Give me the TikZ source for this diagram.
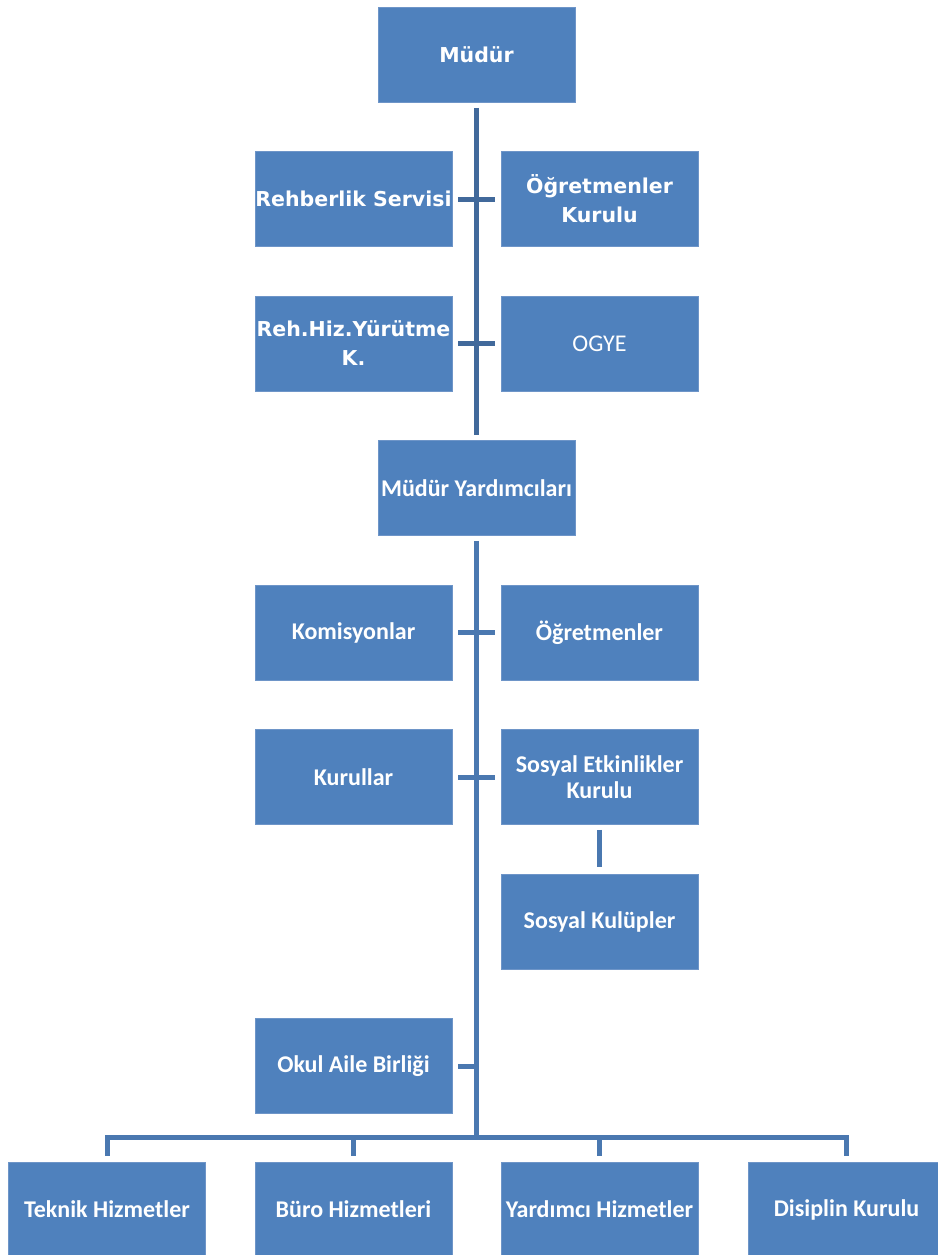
\documentclass[tikz,border=0pt]{standalone}
\usepackage{fontspec}
\setmainfont{Carlito}
\newfontfamily\comicfont{DejaVu Sans}
\definecolor{boxfill}{HTML}{4F81BD}
\definecolor{boxline}{HTML}{6E95C8}
\definecolor{conntop}{HTML}{41699B}
\definecolor{connlow}{HTML}{4A78B0}
\tikzset{
  orgbox/.style={rectangle, fill=boxfill, draw=boxline, line width=0.8pt,
    minimum width=197pt, minimum height=95pt, inner sep=0pt, text=white,
    align=center, font=\bfseries\fontsize{24}{25.5}\selectfont},
  comicbox/.style={orgbox, font=\comicfont\bfseries\fontsize{20.5}{29}\selectfont},
  plainbox/.style={orgbox, font=\fontsize{24}{25.5}\selectfont},
  conn/.style={draw=connlow, line width=5pt, line cap=butt, line join=miter},
  conndark/.style={conn, draw=conntop},
}
\begin{document}
\begin{tikzpicture}[x=1pt,y=-1pt]
\useasboundingbox[fill=white] (0,0) rectangle (937,1255);
\node[comicbox] (mudur) at (476.5,54.5) {Müdür};
\node[comicbox] (rehber) at (353.5,199) {Rehberlik Servisi};
\node[comicbox] (ogrk) at (599.5,199) {Öğretmenler\\Kurulu};
\node[comicbox] (rehhiz) at (353.5,343.5) {Reh.Hiz.Yürütme\\K.};
\node[plainbox] (ogye) at (599.5,343.5) {OGYE};
\node[orgbox] (my) at (476.5,488) {Müdür Yardımcıları};
\node[orgbox] (kom) at (353.5,632.5) {Komisyonlar};
\node[orgbox] (ogr) at (599.5,632.5) {Öğretmenler};
\node[orgbox] (kur) at (353.5,777) {Kurullar};
\node[orgbox] (sek) at (599.5,777) {Sosyal Etkinlikler\\Kurulu};
\node[orgbox] (sk) at (599.5,921.5) {Sosyal Kulüpler};
\node[orgbox] (oab) at (353.5,1066) {Okul Aile Birliği};
\node[orgbox] (teknik) at (107,1209.5) {Teknik Hizmetler};
\node[orgbox] (buro) at (353.5,1209.5) {Büro Hizmetleri};
\node[orgbox] (yard) at (599.5,1209.5) {Yardımcı Hizmetler};
\node[orgbox] (disiplin) at (846.5,1209.5) {Disiplin Kurulu};
\coordinate (bus) at (476.5,1137);
% top spine
\draw[conndark, shorten <=5.5pt, shorten >=5pt] (mudur.south) -- (my.north);
\draw[conndark, shorten <=6pt, shorten >=6pt] (rehber.east) -- (ogrk.west);
\draw[conndark, shorten <=6pt, shorten >=6pt] (rehhiz.east) -- (ogye.west);
% lower spine
\draw[conn, shorten <=5pt] (my.south) -- ([yshift=2.5pt]bus);
\draw[conn, shorten <=6pt, shorten >=6pt] (kom.east) -- (ogr.west);
\draw[conn, shorten <=6pt, shorten >=6pt] (kur.east) -- (sek.west);
\draw[conn, shorten <=5pt, shorten >=7pt] (sek.south) -- (sk.north);
\draw[conn, shorten <=6pt] (oab.east) -- (oab.east -| bus);
% bus
\draw[conn, shorten <=6pt] (teknik.north) |- (bus);
\draw[conn, shorten <=6pt] (disiplin.north) |- (bus);
\draw[conn, shorten <=6pt] (buro.north) -- (buro.north |- bus);
\draw[conn, shorten <=6pt] (yard.north) -- (yard.north |- bus);
\end{tikzpicture}
\end{document}
